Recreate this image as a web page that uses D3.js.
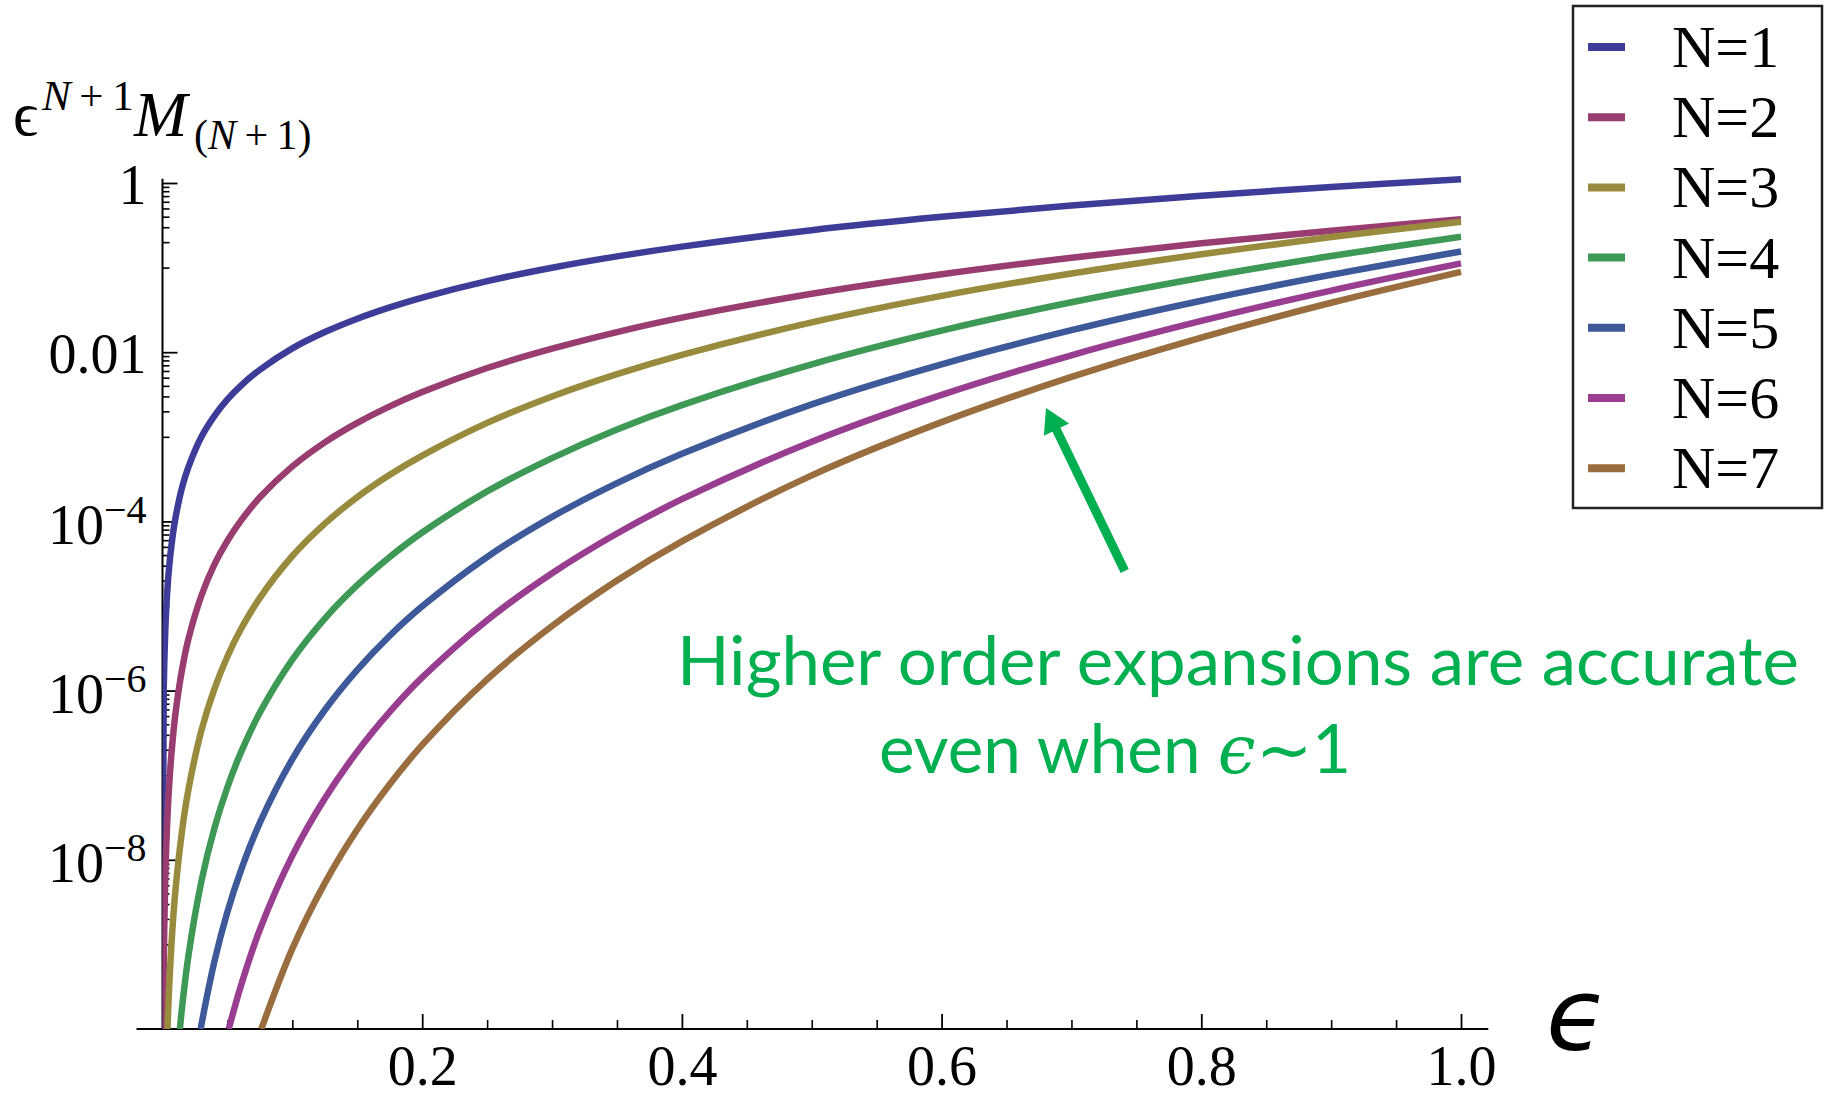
<!DOCTYPE html>
<html>
<head>
<meta charset="utf-8">
<script src="https://cdn.jsdelivr.net/npm/d3@7"></script>
<style>
body { margin: 0; background: #ffffff; }
svg { display: block; }
</style>
</head>
<body>
<svg id="chart" width="1827" height="1098"></svg>
<script>
// epsilon grid the curves were read at
var eps = [0.001, 0.002, 0.003, 0.005, 0.0075, 0.01, 0.015, 0.02, 0.03, 0.04, 0.05, 0.06, 0.075,
	0.1, 0.125, 0.15, 0.175, 0.2, 0.25, 0.3, 0.35, 0.4, 0.5, 0.6, 0.7, 0.8, 0.9, 1.0];

// eps^(N+1) M_(N+1) for each order, null = below the bottom of the plot
var n1 = [1.1e-6, 4.4e-6, 1.0e-5, 2.77e-5, 6.2e-5, 1.1e-4, 2.5e-4, 4.4e-4, 1.0e-3, 1.77e-3, 2.77e-3, 3.98e-3, 6.2e-3,
	0.0111, 0.0173, 0.0249, 0.0339, 0.0443, 0.0692, 0.0996, 0.1356, 0.177, 0.277, 0.398, 0.542, 0.708, 0.897, 1.107];
var n2 = [6.5e-10, 4.9e-9, 1.6e-8, 7.1e-8, 2.3e-7, 5.4e-7, 1.75e-6, 4.1e-6, 1.33e-5, 3.1e-5, 5.9e-5, 1.0e-4, 1.93e-4,
	4.47e-4, 8.6e-4, 1.46e-3, 2.29e-3, 3.38e-3, 6.5e-3, 0.011, 0.0173, 0.0256, 0.0491, 0.0836, 0.131, 0.194, 0.273, 0.372];
var n3 = [null, null, null, 2.84e-10, 1.4e-9, 4.4e-9, 2.17e-8, 6.8e-8, 3.4e-7, 1.05e-6, 2.53e-6, 5.2e-6, 1.25e-5,
	3.9e-5, 9.4e-5, 1.94e-4, 3.56e-4, 6.0e-4, 1.46e-3, 3.0e-3, 5.5e-3, 9.3e-3, 0.0225, 0.0463, 0.0851, 0.144, 0.23, 0.348];
var n4 = [null, null, null, null, null, null, 1.76e-10, 7.4e-10, 5.6e-9, 2.37e-8, 7.2e-8, 1.8e-7, 5.5e-7,
	2.32e-6, 7.1e-6, 1.76e-5, 3.8e-5, 7.4e-5, 2.26e-4, 5.6e-4, 1.22e-3, 2.37e-3, 7.2e-3, 0.018, 0.0389, 0.0759, 0.137, 0.232];
var n5 = [null, null, null, null, null, null, null, null, 1.13e-10, 6.3e-10, 2.42e-9, 7.2e-9, 2.75e-8,
	1.55e-7, 5.9e-7, 1.76e-6, 4.45e-6, 9.9e-6, 3.8e-5, 1.13e-4, 2.84e-4, 6.3e-4, 2.42e-3, 7.2e-3, 0.0182, 0.0406, 0.0822, 0.155];
var n6 = [null, null, null, null, null, null, null, null, null, null, null, 3.1e-10, 1.5e-9,
	1.12e-8, 5.3e-8, 1.9e-7, 5.6e-7, 1.43e-6, 6.8e-6, 2.44e-5, 7.2e-5, 1.83e-4, 8.75e-4, 3.13e-3, 9.2e-3, 0.0234, 0.0535, 0.112];
var n7 = [null, null, null, null, null, null, null, null, null, null, null, null, null,
	8.9e-10, 5.3e-9, 2.28e-8, 7.8e-8, 2.28e-7, 1.36e-6, 5.8e-6, 2.0e-5, 5.8e-5, 3.5e-4, 1.49e-3, 5.1e-3, 0.0149, 0.0384, 0.0891];

// where each curve leaves through the bottom of the frame (value 1e-10)
var floorEps = [0.00001, 0.00053, 0.00384, 0.0134, 0.0294, 0.051, 0.0761];

var seriesNames = ["N=1", "N=2", "N=3", "N=4", "N=5", "N=6", "N=7"];
var seriesColors = ["#3d3d99", "#993d71", "#998b3d", "#3d9955", "#3d5999", "#993d90", "#996d3d"];

var yMajorTicks = [1, 0.01, 1e-4, 1e-6, 1e-8];
var yMajorLabels = ["1", "0.01", "10^-4", "10^-6", "10^-8"];
var yMinorDecades = [0.1, 1e-3, 1e-5, 1e-7, 1e-9];
var xMajorTicks = [0.2, 0.4, 0.6, 0.8, 1.0];
var xMajorLabels = ["0.2", "0.4", "0.6", "0.8", "1.0"];

var serif = "'Liberation Serif', 'Times New Roman', serif";
var green = "#00b050";

var svg = d3.select("#chart");

var x = d3.scaleLinear().domain([0, 1]).range([162.5, 1461]);
var y = d3.scaleLog().domain([1e-10, 1]).range([1029, 183]);

// axis lines
svg.append("line")
	.attr("x1", x(-0.02)).attr("x2", x(1.021))
	.attr("y1", y(1e-10)).attr("y2", y(1e-10))
	.attr("stroke", "#000").attr("stroke-width", 2);
svg.append("line")
	.attr("x1", x(0)).attr("x2", x(0))
	.attr("y1", y(1e-10)).attr("y2", y(1.12))
	.attr("stroke", "#000").attr("stroke-width", 2);

// y axis: minor ticks
var yMinor = [];
yMinorDecades.forEach(function(dec) {
	for (var j = 1; j <= 9; j++) yMinor.push(j * dec);
});
var gyMinor = svg.append("g")
	.attr("transform", "translate(" + x(0) + ",0)")
	.call(d3.axisLeft(y).tickValues(yMinor).tickSizeInner(-7).tickSizeOuter(0).tickFormat(""));
gyMinor.select(".domain").remove();
gyMinor.selectAll(".tick line").attr("stroke-width", 1.6);

// y axis: major ticks + labels
var gy = svg.append("g")
	.attr("transform", "translate(" + x(0) + ",0)")
	.call(d3.axisLeft(y).tickValues(yMajorTicks).tickSizeInner(-15).tickSizeOuter(0).tickPadding(16).tickFormat(""));
gy.select(".domain").remove();
gy.attr("font-size", 56).attr("font-family", serif);
gy.selectAll(".tick line").attr("stroke-width", 1.8);
gy.selectAll(".tick text").each(function(d) {
	var lab = yMajorLabels[yMajorTicks.indexOf(d)];
	var t = d3.select(this).attr("fill", "#000");
	if (lab.indexOf("^") < 0) {
		t.attr("dy", "20px").text(lab);
		return;
	}
	var parts = lab.split("^");
	t.attr("dy", "22px");
	t.append("tspan").text(parts[0]);
	t.append("tspan").attr("dy", -21).attr("font-size", 40).text(parts[1].replace("-", "\u2212"));
});

// x axis: minor ticks
var xMinor = d3.range(1, 20).map(function(k) { return k * 0.05; })
	.filter(function(v) { return Math.abs(v * 5 - Math.round(v * 5)) > 1e-6; });
var gxMinor = svg.append("g")
	.attr("transform", "translate(0," + y(1e-10) + ")")
	.call(d3.axisBottom(x).tickValues(xMinor).tickSizeInner(-9).tickSizeOuter(0).tickFormat(""));
gxMinor.select(".domain").remove();
gxMinor.selectAll(".tick line").attr("stroke-width", 1.6);

// x axis: major ticks + labels
var gx = svg.append("g")
	.attr("transform", "translate(0," + y(1e-10) + ")")
	.call(d3.axisBottom(x).tickValues(xMajorTicks).tickSizeInner(-15).tickSizeOuter(0).tickPadding(16)
		.tickFormat(function(d) { return xMajorLabels[xMajorTicks.indexOf(d)]; }));
gx.select(".domain").remove();
gx.attr("font-size", 56).attr("font-family", serif);
gx.selectAll(".tick line").attr("stroke-width", 1.8);
gx.selectAll(".tick text").attr("fill", "#000");

// curves
svg.append("clipPath").attr("id", "plotClip")
	.append("rect").attr("x", x(0)).attr("y", 150).attr("width", x(1) - x(0) + 10).attr("height", y(1e-10) - 150);

var line = d3.line()
	.x(function(d) { return x(d[0]); })
	.y(function(d) { return y(d[1]); })
	.curve(d3.curveCatmullRom.alpha(0.5));

var series = [n1, n2, n3, n4, n5, n6, n7];
var gCurves = svg.append("g").attr("clip-path", "url(#plotClip)");
series.forEach(function(vals, i) {
	var pts = [[floorEps[i], 1e-10]];
	eps.forEach(function(e, j) {
		if (vals[j] != null && e > floorEps[i]) pts.push([e, vals[j]]);
	});
	gCurves.append("path")
		.attr("d", line(pts))
		.attr("fill", "none")
		.attr("stroke", seriesColors[i])
		.attr("stroke-width", 6.5)
		.attr("stroke-linejoin", "round");
});

// y axis title: eps^(N+1) M_(N+1)
var yt = svg.append("g").attr("font-family", serif).attr("fill", "#000");
yt.append("text").attr("x", 13).attr("y", 135).attr("font-size", 62).text("\u03f5");
yt.append("text").attr("x", 42).attr("y", 110).attr("font-size", 43)
	.html("<tspan font-style='italic'>N</tspan>\u2009+\u20091");
yt.append("text").attr("x", 134).attr("y", 136).attr("font-size", 64).attr("font-style", "italic").text("M");
yt.append("text").attr("x", 194).attr("y", 149).attr("font-size", 42)
	.html("(<tspan font-style='italic'>N</tspan>\u2009+\u20091)");

// x axis title
svg.append("text")
	.attr("x", 1546).attr("y", 1050)
	.attr("font-family", "'DejaVu Sans', sans-serif")
	.attr("font-style", "italic")
	.attr("font-size", 100)
	.attr("fill", "#000")
	.text("\u03f5");

// legend
var legend = svg.append("g");
legend.append("rect")
	.attr("x", 1573).attr("y", 6).attr("width", 249).attr("height", 502)
	.attr("fill", "#fff").attr("stroke", "#222").attr("stroke-width", 2.5);
seriesNames.forEach(function(name, i) {
	var cy = 47 + i * 70.2;
	legend.append("line")
		.attr("x1", 1588).attr("x2", 1625).attr("y1", cy).attr("y2", cy)
		.attr("stroke", seriesColors[i]).attr("stroke-width", 8);
	legend.append("text")
		.attr("x", 1672).attr("y", cy + 20)
		.attr("font-family", serif).attr("font-size", 60).attr("fill", "#000")
		.text(name);
});

// annotation arrow pointing at the N=7 curve
var tail = [x(0.741), y(Math.pow(10, -4.586))];
var tip = [x(0.6804), y(Math.pow(10, -2.66))];
var dx = tip[0] - tail[0], dy = tip[1] - tail[1];
var len = Math.sqrt(dx * dx + dy * dy);
var ux = dx / len, uy = dy / len;
var headLen = 24, headHalf = 14;
var base = [tip[0] - ux * headLen, tip[1] - uy * headLen];
svg.append("line")
	.attr("x1", tail[0]).attr("y1", tail[1]).attr("x2", base[0] + ux * 2).attr("y2", base[1] + uy * 2)
	.attr("stroke", green).attr("stroke-width", 9);
svg.append("path")
	.attr("d", "M" + tip[0] + "," + tip[1] +
		"L" + (base[0] - uy * headHalf) + "," + (base[1] + ux * headHalf) +
		"L" + (base[0] + uy * headHalf) + "," + (base[1] - ux * headHalf) + "Z")
	.attr("fill", green);

// annotation text
svg.append("text")
	.attr("x", 677).attr("y", 685)
	.attr("font-family", "Lato, 'Open Sans', sans-serif")
	.attr("font-size", 67).attr("fill", green)
	.attr("textLength", 1122).attr("lengthAdjust", "spacingAndGlyphs")
	.text("Higher order expansions are accurate");
svg.append("text")
	.attr("x", 879).attr("y", 773)
	.attr("font-family", "Lato, 'Open Sans', sans-serif")
	.attr("font-size", 67).attr("fill", green)
	.attr("textLength", 472).attr("lengthAdjust", "spacingAndGlyphs")
	.html("even when <tspan font-style='italic' font-family='DejaVu Serif'>\u03f5</tspan>\u223c1");
</script>
</body>
</html>
